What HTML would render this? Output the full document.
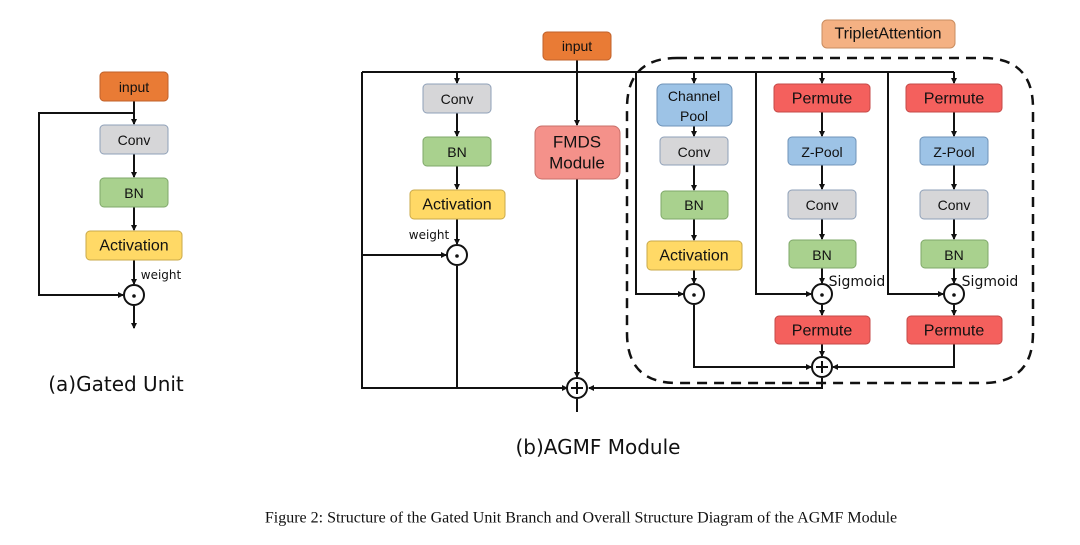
<!DOCTYPE html>
<html><head><meta charset="utf-8"><style>
html,body{margin:0;padding:0;background:#fff;}
svg{display:block;}
.b{font-family:"Liberation Sans",sans-serif;text-anchor:middle;dominant-baseline:central;fill:#111;}
.l{stroke:#111;stroke-width:2;fill:none;}
</style></head><body>
<svg width="1080" height="545" viewBox="0 0 1080 545" xmlns="http://www.w3.org/2000/svg">
<defs>
<marker id="a" markerWidth="6" markerHeight="6" refX="5" refY="3" orient="auto" markerUnits="userSpaceOnUse"><path d="M0,0 L6,3 L0,6 z" fill="#111"/></marker>
</defs>
<rect width="1080" height="545" fill="#fff"/>

<!-- (a) Gated unit -->
<g class="l">
<line x1="134" y1="101" x2="134" y2="124" marker-end="url(#a)"/>
<polyline points="134,113 39,113 39,295 123,295" marker-end="url(#a)"/>
<line x1="134" y1="154" x2="134" y2="177" marker-end="url(#a)"/>
<line x1="134" y1="207" x2="134" y2="230" marker-end="url(#a)"/>
<line x1="134" y1="260" x2="134" y2="284" marker-end="url(#a)"/>
<line x1="134" y1="306" x2="134" y2="328" marker-end="url(#a)"/>
<circle cx="134" cy="295" r="10" fill="#fff"/>
</g>
<circle cx="134" cy="296" r="1.8" fill="#111"/>
<rect x="100" y="72" width="68" height="29" rx="4" fill="#e97b35" stroke="#c0612a"/>
<text class="b" x="134" y="87" font-size="14">input</text>
<rect x="100" y="125" width="68" height="29" rx="4" fill="#d6d6d8" stroke="#8fa0b8"/>
<text class="b" x="134" y="140" font-size="14">Conv</text>
<rect x="100" y="178" width="68" height="29" rx="4" fill="#a9d18e" stroke="#7fa86a"/>
<text class="b" x="134" y="193" font-size="14">BN</text>
<rect x="86" y="231" width="96" height="29" rx="4" fill="#ffd966" stroke="#c9a94a"/>
<text class="b" x="134" y="246" font-size="16">Activation</text>
<text class="b" x="161" y="275" font-size="12" style="font-family:'DejaVu Sans',sans-serif">weight</text>
<text class="b" x="116" y="384" font-size="20" style="font-family:'DejaVu Sans',sans-serif">(a)Gated Unit</text>

<!-- (b) -->
<path d="M677,58 L983,58 Q1033,58 1033,108 L1033,333 Q1033,383 983,383 L677,383 Q627,383 627,333 L627,108 Q627,58 677,58 Z" fill="none" stroke="#111" stroke-width="2.5" stroke-dasharray="10,7"/>
<g class="l">
<polyline points="362,72 954,72"/>
<polyline points="362,72 362,388 567,388" marker-end="url(#a)"/>
<line x1="577" y1="60" x2="577" y2="125" marker-end="url(#a)"/>
<line x1="577" y1="179" x2="577" y2="377" marker-end="url(#a)"/>
<line x1="577" y1="399" x2="577" y2="412"/>
<line x1="457" y1="72" x2="457" y2="83" marker-end="url(#a)"/>
<line x1="457" y1="113" x2="457" y2="136" marker-end="url(#a)"/>
<line x1="457" y1="166" x2="457" y2="189" marker-end="url(#a)"/>
<line x1="457" y1="219" x2="457" y2="244" marker-end="url(#a)"/>
<polyline points="362,255 446,255" marker-end="url(#a)"/>
<line x1="457" y1="266" x2="457" y2="388"/>
<circle cx="457" cy="255" r="10" fill="#fff"/>
<circle cx="577" cy="388" r="10" fill="#fff"/>
<!-- col1 -->
<line x1="694" y1="72" x2="694" y2="83" marker-end="url(#a)"/>
<line x1="694" y1="126" x2="694" y2="136" marker-end="url(#a)"/>
<line x1="694" y1="165" x2="694" y2="190" marker-end="url(#a)"/>
<line x1="694" y1="219" x2="694" y2="240" marker-end="url(#a)"/>
<line x1="694" y1="270" x2="694" y2="283" marker-end="url(#a)"/>
<polyline points="636,72 636,294 683,294" marker-end="url(#a)"/>
<polyline points="694,305 694,367 811,367" marker-end="url(#a)"/>
<circle cx="694" cy="294" r="10" fill="#fff"/>
<!-- col2 -->
<line x1="822" y1="72" x2="822" y2="83" marker-end="url(#a)"/>
<line x1="822" y1="112" x2="822" y2="136" marker-end="url(#a)"/>
<line x1="822" y1="165" x2="822" y2="189" marker-end="url(#a)"/>
<line x1="822" y1="219" x2="822" y2="239" marker-end="url(#a)"/>
<line x1="822" y1="268" x2="822" y2="283" marker-end="url(#a)"/>
<line x1="822" y1="305" x2="822" y2="315" marker-end="url(#a)"/>
<line x1="822" y1="344" x2="822" y2="356" marker-end="url(#a)"/>
<polyline points="756,72 756,294 811,294" marker-end="url(#a)"/>
<polyline points="822,378 822,388 589,388" marker-end="url(#a)"/>
<circle cx="822" cy="294" r="10" fill="#fff"/>
<circle cx="822" cy="367" r="10" fill="#fff"/>
<!-- col3 -->
<line x1="954" y1="72" x2="954" y2="83" marker-end="url(#a)"/>
<line x1="954" y1="112" x2="954" y2="136" marker-end="url(#a)"/>
<line x1="954" y1="165" x2="954" y2="189" marker-end="url(#a)"/>
<line x1="954" y1="219" x2="954" y2="239" marker-end="url(#a)"/>
<line x1="954" y1="268" x2="954" y2="283" marker-end="url(#a)"/>
<line x1="954" y1="305" x2="954" y2="315" marker-end="url(#a)"/>
<polyline points="888,72 888,294 943,294" marker-end="url(#a)"/>
<polyline points="954,344 954,367 833,367" marker-end="url(#a)"/>
<circle cx="954" cy="294" r="10" fill="#fff"/>
</g>
<g fill="#111">
<circle cx="457" cy="256" r="1.8"/><circle cx="694" cy="295" r="1.8"/><circle cx="822" cy="295" r="1.8"/><circle cx="954" cy="295" r="1.8"/>
</g>
<g class="l" stroke-width="1.6">
<line x1="571" y1="388" x2="583" y2="388"/><line x1="577" y1="382" x2="577" y2="394"/>
<line x1="816" y1="367" x2="828" y2="367"/><line x1="822" y1="361" x2="822" y2="373"/>
</g>

<rect x="543" y="32" width="68" height="28" rx="4" fill="#e97b35" stroke="#c0612a"/>
<text class="b" x="577" y="46" font-size="14">input</text>
<rect x="535" y="126" width="85" height="53" rx="7" fill="#f4918a" stroke="#c9706a"/>
<text class="b" x="577" y="142" font-size="17">FMDS</text>
<text class="b" x="577" y="163" font-size="17">Module</text>
<rect x="423" y="84" width="68" height="29" rx="4" fill="#d6d6d8" stroke="#8fa0b8"/>
<text class="b" x="457" y="99" font-size="14">Conv</text>
<rect x="423" y="137" width="68" height="29" rx="4" fill="#a9d18e" stroke="#7fa86a"/>
<text class="b" x="457" y="152" font-size="14">BN</text>
<rect x="410" y="190" width="95" height="29" rx="4" fill="#ffd966" stroke="#c9a94a"/>
<text class="b" x="457" y="205" font-size="16">Activation</text>
<text class="b" x="429" y="235" font-size="12" style="font-family:'DejaVu Sans',sans-serif">weight</text>

<rect x="822" y="20" width="133" height="28" rx="5" fill="#f4b183" stroke="#c98d60"/>
<text class="b" x="888" y="34" font-size="16">TripletAttention</text>

<rect x="657" y="84" width="75" height="42" rx="6" fill="#9dc3e6" stroke="#6f93b8"/>
<text class="b" x="694" y="96" font-size="14">Channel</text>
<text class="b" x="694" y="116" font-size="14">Pool</text>
<rect x="660" y="137" width="68" height="28" rx="4" fill="#d6d6d8" stroke="#8fa0b8"/>
<text class="b" x="694" y="152" font-size="14">Conv</text>
<rect x="661" y="191" width="67" height="28" rx="4" fill="#a9d18e" stroke="#7fa86a"/>
<text class="b" x="694" y="205" font-size="14">BN</text>
<rect x="647" y="241" width="95" height="29" rx="4" fill="#ffd966" stroke="#c9a94a"/>
<text class="b" x="694" y="256" font-size="16">Activation</text>

<rect x="774" y="84" width="96" height="28" rx="4" fill="#f4605d" stroke="#c44a48"/>
<text class="b" x="822" y="99" font-size="16">Permute</text>
<rect x="788" y="137" width="68" height="28" rx="4" fill="#9dc3e6" stroke="#6f93b8"/>
<text class="b" x="822" y="152" font-size="14">Z-Pool</text>
<rect x="788" y="190" width="68" height="29" rx="4" fill="#d6d6d8" stroke="#8fa0b8"/>
<text class="b" x="822" y="205" font-size="14">Conv</text>
<rect x="789" y="240" width="67" height="28" rx="4" fill="#a9d18e" stroke="#7fa86a"/>
<text class="b" x="822" y="255" font-size="14">BN</text>
<text class="b" x="857" y="282" font-size="14" style="font-family:'DejaVu Sans',sans-serif">Sigmoid</text>
<rect x="775" y="316" width="95" height="28" rx="4" fill="#f4605d" stroke="#c44a48"/>
<text class="b" x="822" y="331" font-size="16">Permute</text>

<rect x="906" y="84" width="96" height="28" rx="4" fill="#f4605d" stroke="#c44a48"/>
<text class="b" x="954" y="99" font-size="16">Permute</text>
<rect x="920" y="137" width="68" height="28" rx="4" fill="#9dc3e6" stroke="#6f93b8"/>
<text class="b" x="954" y="152" font-size="14">Z-Pool</text>
<rect x="920" y="190" width="68" height="29" rx="4" fill="#d6d6d8" stroke="#8fa0b8"/>
<text class="b" x="954" y="205" font-size="14">Conv</text>
<rect x="921" y="240" width="67" height="28" rx="4" fill="#a9d18e" stroke="#7fa86a"/>
<text class="b" x="954" y="255" font-size="14">BN</text>
<text class="b" x="990" y="282" font-size="14" style="font-family:'DejaVu Sans',sans-serif">Sigmoid</text>
<rect x="907" y="316" width="95" height="28" rx="4" fill="#f4605d" stroke="#c44a48"/>
<text class="b" x="954" y="331" font-size="16">Permute</text>

<text class="b" x="598" y="447" font-size="20" style="font-family:'DejaVu Sans',sans-serif">(b)AGMF Module</text>
<text class="b" x="581" y="518" font-size="16" style="font-family:'Liberation Serif',serif">Figure 2: Structure of the Gated Unit Branch and Overall Structure Diagram of the AGMF Module</text>
</svg>
</body></html>
